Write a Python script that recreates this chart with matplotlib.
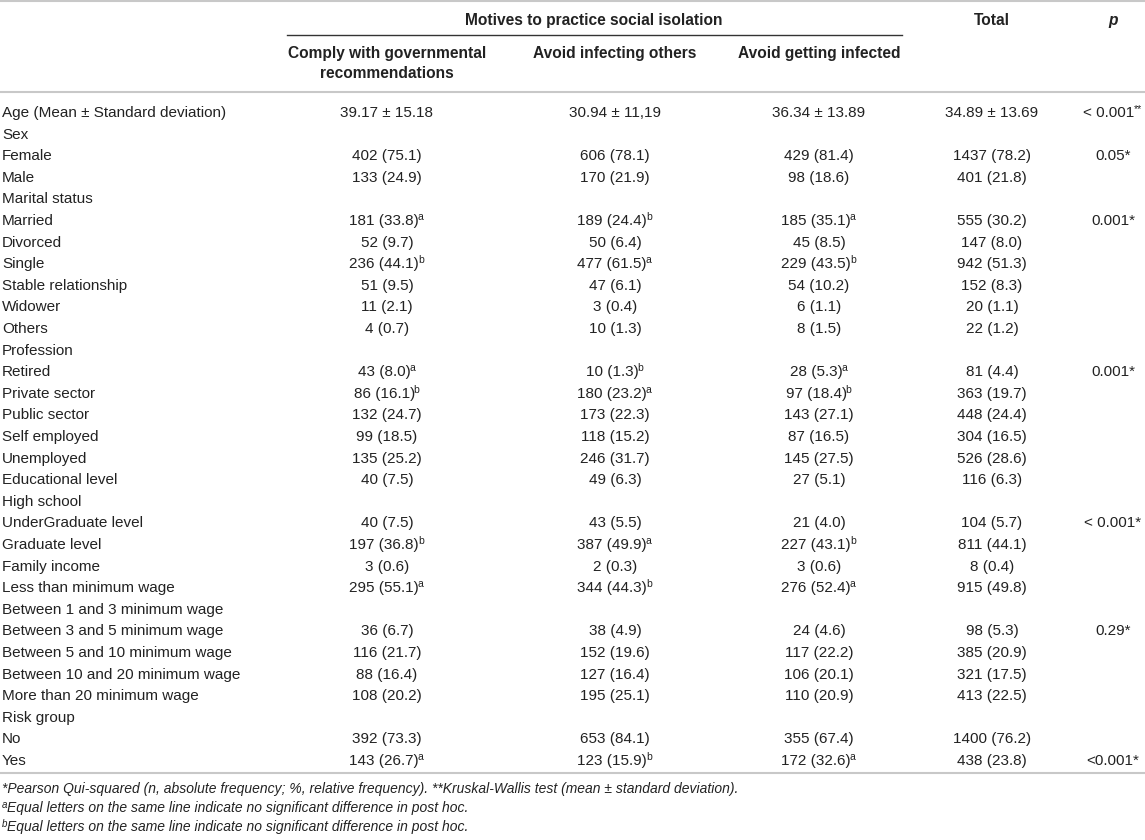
import matplotlib
matplotlib.use('Agg')
import matplotlib.pyplot as plt

plt.rcParams['font.family'] = ['Liberation Sans', 'DejaVu Sans']

# table content
row_labels = ['Age (Mean ± Standard deviation)', 'Sex', 'Female', 'Male', 'Marital status',
              'Married', 'Divorced', 'Single', 'Stable relationship', 'Widower', 'Others',
              'Profession', 'Retired', 'Private sector', 'Public sector', 'Self employed',
              'Unemployed', 'Educational level', 'High school', 'UnderGraduate level',
              'Graduate level', 'Family income', 'Less than minimum wage',
              'Between 1 and 3 minimum wage', 'Between 3 and 5 minimum wage',
              'Between 5 and 10 minimum wage', 'Between 10 and 20 minimum wage',
              'More than 20 minimum wage', 'Risk group', 'No', 'Yes']
comply = ['39.17 ± 15.18', '', '402 (75.1)', '133 (24.9)', '', '181 (33.8)', '52 (9.7)',
          '236 (44.1)', '51 (9.5)', '11 (2.1)', '4 (0.7)', '', '43 (8.0)', '86 (16.1)',
          '132 (24.7)', '99 (18.5)', '135 (25.2)', '40 (7.5)', '', '40 (7.5)', '197 (36.8)',
          '3 (0.6)', '295 (55.1)', '', '36 (6.7)', '116 (21.7)', '88 (16.4)', '108 (20.2)',
          '', '392 (73.3)', '143 (26.7)']
comply_sup = {5: 'a', 7: 'b', 12: 'a', 13: 'b', 20: 'b', 22: 'a', 30: 'a'}
infect_others = ['30.94 ± 11,19', '', '606 (78.1)', '170 (21.9)', '', '189 (24.4)', '50 (6.4)',
                 '477 (61.5)', '47 (6.1)', '3 (0.4)', '10 (1.3)', '', '10 (1.3)', '180 (23.2)',
                 '173 (22.3)', '118 (15.2)', '246 (31.7)', '49 (6.3)', '', '43 (5.5)',
                 '387 (49.9)', '2 (0.3)', '344 (44.3)', '', '38 (4.9)', '152 (19.6)',
                 '127 (16.4)', '195 (25.1)', '', '653 (84.1)', '123 (15.9)']
infect_others_sup = {5: 'b', 7: 'a', 12: 'b', 13: 'a', 20: 'a', 22: 'b', 30: 'b'}
get_infected = ['36.34 ± 13.89', '', '429 (81.4)', '98 (18.6)', '', '185 (35.1)', '45 (8.5)',
                '229 (43.5)', '54 (10.2)', '6 (1.1)', '8 (1.5)', '', '28 (5.3)', '97 (18.4)',
                '143 (27.1)', '87 (16.5)', '145 (27.5)', '27 (5.1)', '', '21 (4.0)',
                '227 (43.1)', '3 (0.6)', '276 (52.4)', '', '24 (4.6)', '117 (22.2)',
                '106 (20.1)', '110 (20.9)', '', '355 (67.4)', '172 (32.6)']
get_infected_sup = {5: 'a', 7: 'b', 12: 'a', 13: 'b', 20: 'b', 22: 'a', 30: 'a'}
total = ['34.89 ± 13.69', '', '1437 (78.2)', '401 (21.8)', '', '555 (30.2)', '147 (8.0)',
         '942 (51.3)', '152 (8.3)', '20 (1.1)', '22 (1.2)', '', '81 (4.4)', '363 (19.7)',
         '448 (24.4)', '304 (16.5)', '526 (28.6)', '116 (6.3)', '', '104 (5.7)', '811 (44.1)',
         '8 (0.4)', '915 (49.8)', '', '98 (5.3)', '385 (20.9)', '321 (17.5)', '413 (22.5)',
         '', '1400 (76.2)', '438 (23.8)']
p_values = {0: ('< 0.001', '**'), 2: ('0.05*', ''), 5: ('0.001*', ''), 12: ('0.001*', ''),
            19: ('< 0.001*', ''), 24: ('0.29*', ''), 30: ('<0.001*', '')}

group_title = 'Motives to practice social isolation'
col_titles = ['Comply with governmental', 'recommendations', 'Avoid infecting others',
              'Avoid getting infected']
footnotes = [('', '*Pearson Qui-squared (n, absolute frequency; %, relative frequency). '
                  '**Kruskal-Wallis test (mean ± standard deviation).'),
             ('a', 'Equal letters on the same line indicate no significant difference in post hoc.'),
             ('b', 'Equal letters on the same line indicate no significant difference in post hoc.')]

W, H = 1145, 840
fig = plt.figure(figsize=(W / 100, H / 100), dpi=100)
ax = fig.add_axes([0, 0, 1, 1])
ax.set_xlim(0, W)
ax.set_ylim(H, 0)
ax.axis('off')
renderer = fig.canvas.get_renderer()

txt = '#222222'
fs = 11
hfs = 11.2
col_x = [387, 615, 819, 992]
p_x = 1113
base = 5  # baseline offset from row centre


def width_of(s, **kw):
    t = ax.text(0, 0, s, **kw)
    w = t.get_window_extent(renderer).width
    t.remove()
    return w


def cell(x, y, val, sup, size=fs):
    # main text plus raised small superscript, centred as a whole
    w = width_of(val, fontsize=size)
    ws = width_of(sup, fontsize=size * 0.68) if sup else 0
    left = x - (w + ws) / 2
    ax.text(left, y, val, ha='left', va='baseline', fontsize=size, color=txt)
    if sup:
        ax.text(left + w - 1, y - 5, sup, ha='left', va='baseline', fontsize=size * 0.68,
                color=txt)


# rules
ax.plot([0, W], [1, 1], color='#c8c8c8', lw=1.5)
ax.plot([287, 902], [35, 35], color='#333333', lw=1.0)
ax.plot([0, W], [91.5, 91.5], color='#c8c8c8', lw=1.5)
ax.plot([0, W], [773, 773], color='#c8c8c8', lw=1.5)

# header
hd = dict(ha='center', va='baseline', fontsize=hfs, fontweight='bold', color=txt)
ax.text(594, 20 + base, group_title, **hd)
ax.text(col_x[0], 53 + base, col_titles[0], **hd)
ax.text(col_x[0], 73 + base, col_titles[1], **hd)
ax.text(col_x[1], 53 + base, col_titles[2], **hd)
ax.text(col_x[2], 53 + base, col_titles[3], **hd)
ax.text(col_x[3], 20 + base, 'Total', **hd)
ax.text(p_x, 20 + base, 'p', fontstyle='italic', **hd)

y0, dy = 112, 21.6
columns = [(comply, comply_sup), (infect_others, infect_others_sup),
           (get_infected, get_infected_sup), (total, {})]
for i, lab in enumerate(row_labels):
    y = y0 + i * dy + base
    ax.text(2, y, lab, ha='left', va='baseline', fontsize=fs, color=txt)
    for (vals, sups), x in zip(columns, col_x):
        if vals[i]:
            cell(x, y, vals[i], sups.get(i, ''))
    if i in p_values:
        cell(p_x, y, p_values[i][0], p_values[i][1])

for k, (sup, note) in enumerate(footnotes):
    y = 788 + k * 19.5 + 4.5
    x = 2
    if sup:
        ax.text(x, y - 4.5, sup, ha='left', va='baseline', fontsize=7,
                fontstyle='italic', color=txt)
        x += width_of(sup, fontsize=7, fontstyle='italic')
    ax.text(x, y, note, ha='left', va='baseline', fontsize=10,
            fontstyle='italic', color=txt)

fig.savefig('out.png', dpi=100, facecolor='white')
